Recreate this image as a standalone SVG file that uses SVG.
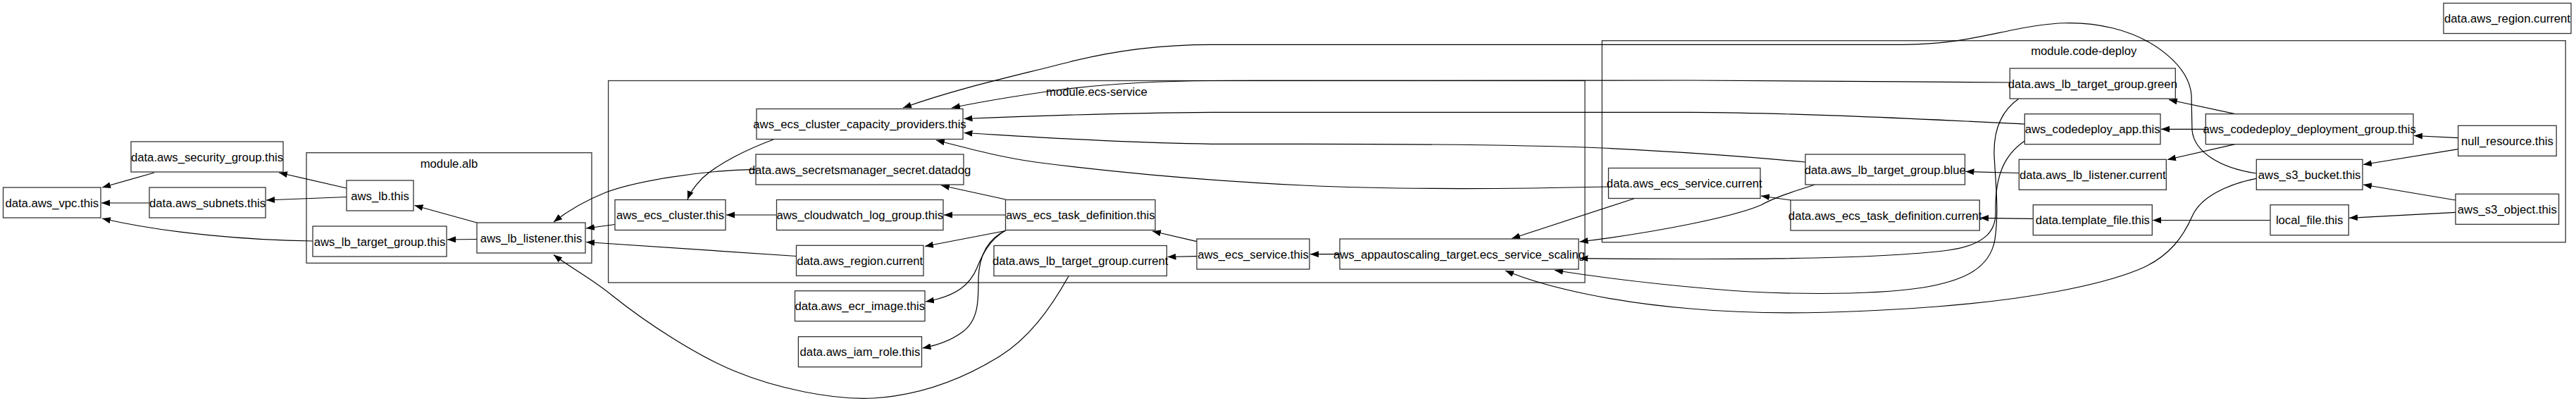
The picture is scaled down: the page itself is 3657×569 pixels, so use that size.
<svg xmlns="http://www.w3.org/2000/svg" width="3657" height="569" viewBox="0 0 3657 569">
<style>
.bg{fill:#fff}
.c rect{fill:none;stroke:#333;stroke-width:1.3}
.n rect{fill:#fff;stroke:#333;stroke-width:1.3}
text{font-family:"Liberation Sans",Arial,sans-serif;font-size:16.7px;fill:#000;text-anchor:middle}
.e path{fill:none;stroke:#000;stroke-width:1.2;marker-end:url(#a)}
</style>
<defs>
<marker id="a" markerUnits="userSpaceOnUse" markerWidth="13" markerHeight="10" refX="12" refY="4.5" orient="auto" viewBox="0 0 13 10">
<path d="M0,0 L12,4.5 L0,9 Z" fill="#000"/>
</marker>
</defs>
<rect class="bg" x="0" y="0" width="3657" height="569"/>

<g id="clusters" class="c">
<g id="cluster_alb"><rect x="435" y="216.7" width="405" height="156.6"/><text x="637.5" y="238">module.alb</text></g>
<g id="cluster_ecs"><rect x="863.6" y="114.5" width="1386.4" height="286.5"/><text x="1557" y="136">module.ecs-service</text></g>
<g id="cluster_cd"><rect x="2274.3" y="57.7" width="1367.9" height="286"/><text x="2958.3" y="77.7">module.code-deploy</text></g>
</g>

<g id="edges" class="e">
<path d="M219,245 L145,266"/>
<path d="M212,288 L144,288"/>
<path d="M444,342 C360,341 240,332 145,310"/>
<path d="M492,267 L396,245"/>
<path d="M492,279.5 L378,284"/>
<path d="M677,316 L588.5,291.5"/>
<path d="M677,339.5 L635,340"/>
<path d="M873,318.5 L832,324"/>
<path d="M1130.5,363.5 L832,343.5"/>
<path d="M1073,240.3 C990,242 900,258 860,273 C830,285 805,300 786,315"/>
<path d="M1098,198 C1060,212 1020,232 998,252 C988,262 980,272 976,283"/>
<path d="M1102.5,305 L1031,305"/>
<path d="M1427.5,305 L1340,305"/>
<path d="M1427.5,283 L1336,263"/>
<path d="M1427.5,327.5 L1313,349.5"/>
<path d="M1427.5,327 C1405,340 1395,360 1387,380 C1378,402 1360,420 1314,428"/>
<path d="M1427.5,327 C1400,340 1390,365 1389,395 C1389,425 1390,455 1365,472 C1350,483 1330,490 1309.5,494"/>
<path d="M1699,342.7 L1636,328"/>
<path d="M1699,363.7 L1657.5,364.5"/>
<path d="M1517,392 C1490,440 1460,480 1420,505 C1380,530 1320,560 1240,565 C1180,568 1100,550 1044,527 C990,505 920,460 870,420 C840,395 810,380 786,361.5"/>
<path d="M1902,360.7 L1860,360.7"/>
<path d="M2320,281.7 L2146,338.5"/>
<path d="M2283.5,265 C2150,268 2000,270 1850,263 C1700,256 1560,242 1470,230 C1420,223 1380,212 1329,199"/>
<path d="M3203,246 C3150,238 3115,215 3112,185 L3111,135 C3108,95 3060,55 3000,40 C2950,28 2910,32 2860,42 C2810,52 2770,63 2700,63.3 L1720,63.3 C1650,63.3 1580,72 1518,88 C1440,108 1360,125 1282,153"/>
<path d="M2853.3,117 C2700,116 2500,114 2400,114 L1720,114.5 C1640,115 1560,120 1500,128 C1450,135 1400,143 1351,153"/>
<path d="M2874.3,176 C2750,170 2550,160 2400,159.3 L1720,159.3 C1600,160 1480,164 1368.5,168.5"/>
<path d="M2563,230 C2500,224 2400,216 2274,210 C2150,205 2000,204.3 1850,204.3 L1720,204.3 C1600,203 1480,195 1368.5,188.5"/>
<path d="M2576,262.3 C2545,272 2520,280 2500,291 C2460,308 2350,330 2242.5,343"/>
<path d="M2874.3,200 C2845,220 2832,250 2833,300 C2834,330 2815,348 2766,355 C2650,370 2400,368 2242.5,366.7"/>
<path d="M2866,140 C2840,158 2830,185 2831,220 C2833,260 2838,300 2832,340 C2825,380 2790,398 2730,408 C2650,420 2520,418 2430,410 C2360,404 2280,395 2207,383.5"/>
<path d="M3203,253.3 C3160,262 3125,280 3113,305 C3100,335 3080,365 3035,383 C2980,405 2880,425 2750,435 C2620,445 2500,447 2400,438 C2300,430 2200,410 2137,384"/>
<path d="M2542,284 L2500,278"/>
<path d="M2866.3,245.5 L2790.5,243.5"/>
<path d="M2886.3,310.3 L2811,309.3"/>
<path d="M3173,161.7 L3079,141.5"/>
<path d="M3131.3,183.3 L3068,183.3"/>
<path d="M3173,204.7 L3077,226.5"/>
<path d="M3489.7,195.7 L3427,192.5"/>
<path d="M3489.7,211.7 L3355,233.5"/>
<path d="M3486,284 L3355,262"/>
<path d="M3486,301.3 L3335,309.3"/>
<path d="M3223,312.5 L3056,312.5"/>
</g>

<g id="n_region_root" class="n"><rect x="3469" y="4.5" width="181" height="43"/><text x="3559.5" y="32">data.aws_region.current</text></g>
<g id="n_vpc" class="n"><rect x="4.5" y="266" width="138.5" height="43"/><text x="73.75" y="293.5">data.aws_vpc.this</text></g>
<g id="n_sg" class="n"><rect x="186" y="201" width="216" height="43"/><text x="294" y="228.5">data.aws_security_group.this</text></g>
<g id="n_subnets" class="n"><rect x="212" y="266" width="165" height="43"/><text x="294.5" y="293.5">data.aws_subnets.this</text></g>
<g id="n_lb" class="n"><rect x="492" y="256" width="95" height="43"/><text x="539.5" y="283.5">aws_lb.this</text></g>
<g id="n_lb_tg" class="n"><rect x="444" y="321" width="190" height="43"/><text x="539" y="348.5">aws_lb_target_group.this</text></g>
<g id="n_listener" class="n"><rect x="677" y="316" width="154" height="43"/><text x="754" y="343.5">aws_lb_listener.this</text></g>
<g id="n_capacity" class="n"><rect x="1074" y="154.5" width="293" height="43"/><text x="1220.5" y="182">aws_ecs_cluster_capacity_providers.this</text></g>
<g id="n_secret" class="n"><rect x="1073" y="219" width="295" height="43"/><text x="1220.5" y="246.5">data.aws_secretsmanager_secret.datadog</text></g>
<g id="n_ecs_cluster" class="n"><rect x="873" y="283.5" width="157" height="43"/><text x="951.5" y="311">aws_ecs_cluster.this</text></g>
<g id="n_cloudwatch" class="n"><rect x="1102.5" y="283.5" width="236.5" height="43"/><text x="1220.75" y="311">aws_cloudwatch_log_group.this</text></g>
<g id="n_taskdef" class="n"><rect x="1427.5" y="283.5" width="212.5" height="43"/><text x="1533.75" y="311">aws_ecs_task_definition.this</text></g>
<g id="n_region_ecs" class="n"><rect x="1130.5" y="348.3" width="180.5" height="43"/><text x="1220.75" y="375.8">data.aws_region.current</text></g>
<g id="n_tg_current" class="n"><rect x="1411" y="348.5" width="245.4" height="43"/><text x="1533.7" y="376">data.aws_lb_target_group.current</text></g>
<g id="n_ecs_service" class="n"><rect x="1699" y="339" width="160" height="43"/><text x="1779" y="366.5">aws_ecs_service.this</text></g>
<g id="n_autoscaling" class="n"><rect x="1902" y="339" width="339" height="43"/><text x="2071.5" y="366.5">aws_appautoscaling_target.ecs_service_scaling</text></g>
<g id="n_ecr" class="n"><rect x="1128.5" y="412.7" width="184.5" height="43"/><text x="1220.75" y="440.2">data.aws_ecr_image.this</text></g>
<g id="n_iam" class="n"><rect x="1133.4" y="477.7" width="175.1" height="43"/><text x="1220.95" y="505.2">data.aws_iam_role.this</text></g>
<g id="n_svc_current" class="n"><rect x="2283.5" y="238.5" width="215.5" height="43"/><text x="2391.25" y="266">data.aws_ecs_service.current</text></g>
<g id="n_blue" class="n"><rect x="2563" y="219" width="226.5" height="43"/><text x="2676.25" y="246.5">data.aws_lb_target_group.blue</text></g>
<g id="n_td_current" class="n"><rect x="2542" y="284" width="268.3" height="43"/><text x="2676.15" y="311.5">data.aws_ecs_task_definition.current</text></g>
<g id="n_green" class="n"><rect x="2853.3" y="97" width="235" height="43"/><text x="2970.8" y="124.5">data.aws_lb_target_group.green</text></g>
<g id="n_cd_app" class="n"><rect x="2874.3" y="161.7" width="192.7" height="43"/><text x="2970.65" y="189.2">aws_codedeploy_app.this</text></g>
<g id="n_listener_current" class="n"><rect x="2866.3" y="226.3" width="209" height="43"/><text x="2970.8" y="253.8">data.aws_lb_listener.current</text></g>
<g id="n_template" class="n"><rect x="2886.3" y="290.7" width="169" height="43"/><text x="2970.8" y="318.2">data.template_file.this</text></g>
<g id="n_dg" class="n"><rect x="3131.3" y="161.7" width="294.7" height="43"/><text x="3278.65" y="189.2">aws_codedeploy_deployment_group.this</text></g>
<g id="n_null" class="n"><rect x="3489.7" y="178.3" width="139.5" height="43"/><text x="3559.45" y="205.8">null_resource.this</text></g>
<g id="n_s3_bucket" class="n"><rect x="3203.3" y="226.3" width="150.7" height="43"/><text x="3278.65" y="253.8">aws_s3_bucket.this</text></g>
<g id="n_s3_object" class="n"><rect x="3486" y="275.3" width="146.6" height="43"/><text x="3559.3" y="302.8">aws_s3_object.this</text></g>
<g id="n_local_file" class="n"><rect x="3223" y="290.7" width="111.3" height="43"/><text x="3278.65" y="318.2">local_file.this</text></g>
</svg>
